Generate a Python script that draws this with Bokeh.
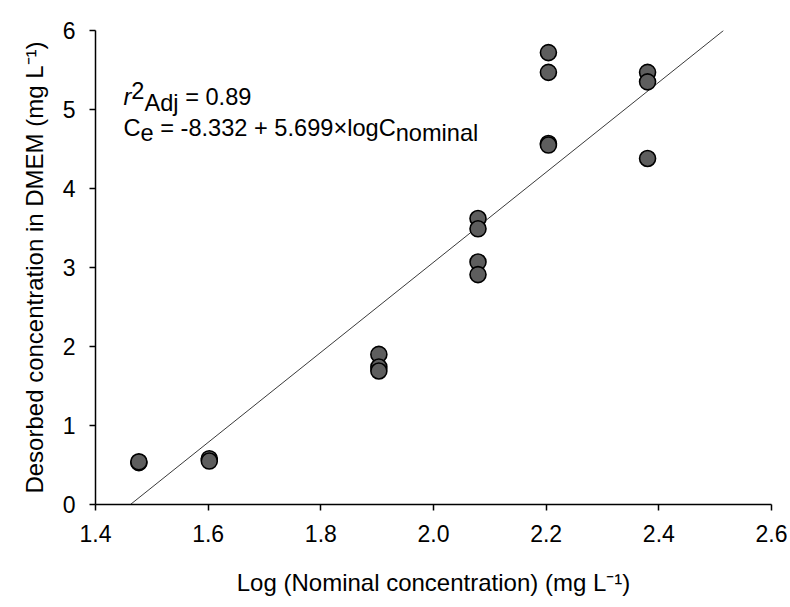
from bokeh.plotting import figure
from bokeh.models import Label, FixedTicker, NumeralTickFormatter, Range1d
from bokeh.embed import file_html
from bokeh.resources import INLINE

# ---- data ----
log_nominal = [1.477, 1.477,
               1.602, 1.602,
               1.903, 1.903, 1.903,
               2.079, 2.079, 2.079, 2.079,
               2.204, 2.204, 2.204, 2.204,
               2.380, 2.380, 2.380]
desorbed = [0.53, 0.54,
            0.58, 0.55,
            1.90, 1.74, 1.69,
            3.62, 3.49, 3.07, 2.91,
            5.72, 5.47, 4.57, 4.55,
            5.47, 5.35, 4.38]
intercept = -8.332
slope = 5.699
r2_adj = 0.89
x_ticks = [1.4, 1.6, 1.8, 2.0, 2.2, 2.4, 2.6]
y_ticks = [0, 1, 2, 3, 4, 5, 6]

FONT = "Liberation Sans"
NB = "\u00a0"

p = figure(width=787, height=604, output_backend="svg", toolbar_location=None,
           x_range=Range1d(1.4, 2.6), y_range=Range1d(0, 6),
           min_border_left=95, min_border_right=16, min_border_top=30, min_border_bottom=100)
p.outline_line_color = None
p.grid.visible = False
p.background_fill_color = "white"
p.border_fill_color = "white"

for ax in (p.xaxis[0], p.yaxis[0]):
    ax.axis_line_color = "black"
    ax.axis_line_width = 1.5
    ax.major_tick_line_color = "black"
    ax.major_tick_line_width = 1.5
    ax.major_tick_out = 6
    ax.major_tick_in = 0
    ax.minor_tick_line_color = None
    ax.major_label_text_font = FONT
    ax.major_label_text_font_size = "23px"
    ax.major_label_text_color = "black"
    ax.axis_label_text_font = FONT
    ax.axis_label_text_font_size = "24px"
    ax.axis_label_text_font_style = "normal"
    ax.axis_label_text_color = "black"

p.xaxis.ticker = FixedTicker(ticks=x_ticks)
p.xaxis.formatter = NumeralTickFormatter(format="0.0")
p.yaxis.ticker = FixedTicker(ticks=y_ticks)
p.xaxis.major_label_standoff = 14
p.yaxis.major_label_standoff = 14
p.xaxis.axis_label = "Log (Nominal concentration) (mg L\u207b\u00b9)"
p.yaxis.axis_label = "Desorbed concentration in DMEM (mg L\u207b\u00b9)"
p.xaxis.axis_label_standoff = 24
p.yaxis.axis_label_standoff = 12

# regression line, drawn across the y range 0..6
y_ends = [y_ticks[0], y_ticks[-1]]
x_ends = [(yv - intercept) / slope for yv in y_ends]
p.line(x_ends, y_ends, line_color="#3a3a3a", line_width=1)

p.scatter(log_nominal, desorbed, marker="circle", size=16,
          fill_color="#5e5e5e", line_color="black", line_width=1.6)

# ---- annotation composed of pieces ----
W = {"r": .333, "2": .556, "A": .667, "d": .556, "j": .222, " ": .278, NB: .278, "=": .584,
     "0": .556, ".": .278, "8": .556, "9": .556, "C": .722, "e": .556, "-": .333,
     "3": .556, "+": .584, "5": .556, "6": .556, "\u00d7": .584, "l": .222, "o": .556,
     "g": .556, "n": .556, "m": .833, "i": .222, "a": .556}
FS = 23.6

def width(s):
    return sum(W.get(c, .556) for c in s) * FS

def compose(pieces, x, y):
    off = 0
    for txt, dy, style in pieces:
        p.add_layout(Label(x=x, y=y, x_offset=off, y_offset=dy, text=txt,
                           text_font=FONT, text_font_size=f"{FS}px",
                           text_font_style=style, text_color="black",
                           text_baseline="alphabetic", text_align="left"))
        off += width(txt)

x0 = 1.4 + 28 / 563.3
compose([("r", 0, "italic"), ("2", 7, "normal"), ("Adj", -6, "normal"),
         (f"{NB}={NB}{r2_adj:.2f}", 0, "normal")], x0, 5.155)
compose([("C", 0, "normal"), ("e", -4, "normal"),
         (f"{NB}={NB}{intercept:.3f}{NB}+{NB}{slope:.3f}\u00d7logC", 0, "normal"),
         ("nominal", -5, "normal")], x0, 4.765)

open("out.html", "w").write(file_html(p, INLINE))
